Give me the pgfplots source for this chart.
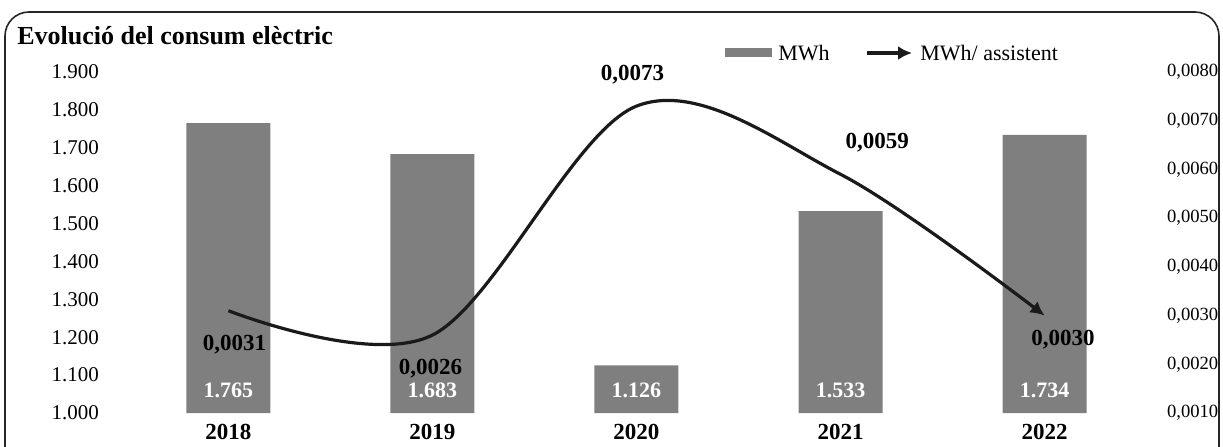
\documentclass[border=0pt]{standalone}
\usepackage{pgfplots}
\pgfplotsset{compat=1.18}
\usepackage{fontspec}
\setmainfont{Liberation Serif}
\usetikzlibrary{arrows.meta}
\definecolor{bargray}{HTML}{7F7F7F}
\definecolor{linec}{HTML}{1A1A1A}
\begin{document}
\begin{tikzpicture}[x=0.5pt,y=0.5pt]
\useasboundingbox (0,0) rectangle (1223,446);
\draw[line width=0.8pt, rounded corners=12pt, color=black!85] (5,-30) rectangle (1219,434);
\node[anchor=base west, font=\bfseries\fontsize{13}{15}\selectfont, inner sep=0pt] at (17,402) {Evolució del consum elèctric};
% legend
\fill[bargray] (725,389) rectangle (772,398);
\node[anchor=west, font=\fontsize{11}{13}\selectfont, inner sep=0pt] at (778,393) {MWh};
\draw[linec, line width=1.6pt, -{Latex[length=7pt,width=7pt]}] (867,393) -- (912,393);
\node[anchor=west, font=\fontsize{11}{13}\selectfont, inner sep=0pt] at (920,393) {MWh/ assistent};
\begin{axis}[
  at={(53pt,16.5pt)}, anchor=south west,
  scale only axis, width=530.5pt, height=170.5pt,
  xmin=-0.6, xmax=4.6, ymin=1000, ymax=1900,
  xtick={0,1,2,3,4}, xticklabels={2018,2019,2020,2021,2022},
  ytick={1000,1100,...,1900},
  axis line style={draw=none}, major tick length=0pt,
  /pgf/number format/.cd, use comma, 1000 sep={.}, assume math mode=true,
  /pgfplots/.cd,
  ticklabel style={font=\fontsize{10.5}{12}\selectfont},
  xticklabel style={font=\bfseries\fontsize{11.5}{13}\selectfont, yshift=-2pt},
  clip=false,
]
\addplot[ybar, bar width=42pt, fill=bargray, draw=none, bar shift=0pt] coordinates {(0,1765) (1,1683) (2,1126) (3,1533) (4,1734)};
\foreach \i/\v in {0/1.765,1/1.683,2/1.126,3/1.533,4/1.734}{
  \edef\tmp{\noexpand\node[white, font=\noexpand\bfseries\noexpand\fontsize{11}{12}\noexpand\selectfont] at (axis cs:\i,1061) {\v};}\tmp
}
\end{axis}
\begin{axis}[
  at={(53pt,16.5pt)}, anchor=south west,
  scale only axis, width=530.5pt, height=170.5pt,
  xmin=-0.6, xmax=4.6, ymin=0.001, ymax=0.008,
  axis y line*=right, axis x line=none,
  ytick={0.001,0.002,...,0.008},
  axis line style={draw=none}, major tick length=0pt,
  yticklabel style={xshift=-3.5pt, font=\fontsize{9.3}{12}\selectfont, /pgf/number format/.cd, fixed, fixed zerofill, precision=4, use comma, assume math mode=true},
  scaled y ticks=false,
  clip=false,
]
\addplot[linec, line width=1.6pt, smooth, tension=0.55, -{Latex[length=7pt,width=7pt]}] coordinates {(0,0.0031) (1,0.0026) (2,0.0073) (3,0.0059) (4,0.0030)};
\node[font=\bfseries\fontsize{11.5}{12}\selectfont] at (axis cs:0.03,0.0024) {0,0031};
\node[font=\bfseries\fontsize{11.5}{12}\selectfont] at (axis cs:0.99,0.00192) {0,0026};
\node[font=\bfseries\fontsize{11.5}{12}\selectfont] at (axis cs:1.98,0.00794) {0,0073};
\node[font=\bfseries\fontsize{11.5}{12}\selectfont] at (axis cs:3.18,0.00656) {0,0059};
\node[font=\bfseries\fontsize{11.5}{12}\selectfont] at (axis cs:4.09,0.0025) {0,0030};
\end{axis}
\end{tikzpicture}
\end{document}
